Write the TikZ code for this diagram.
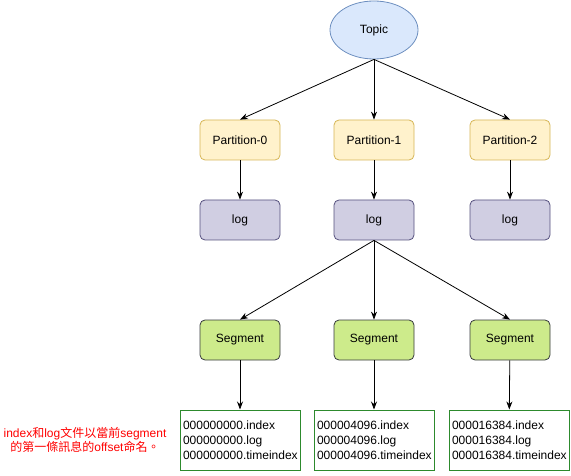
\documentclass[tikz,border=0pt]{standalone}
\usepackage{fontspec}
\setmainfont{Liberation Sans}
\newfontfamily\cjk{Noto Sans CJK TC}
\usetikzlibrary{arrows.meta,shapes.geometric}
\definecolor{topicfill}{HTML}{DAE8FC}
\definecolor{topicline}{HTML}{6C8EBF}
\definecolor{partfill}{HTML}{FFF2CC}
\definecolor{partline}{HTML}{D6B656}
\definecolor{logfill}{HTML}{D0CEE2}
\definecolor{logline}{HTML}{56517E}
\definecolor{segfill}{HTML}{CDEB8B}
\definecolor{segline}{HTML}{36393D}
\definecolor{fileline}{HTML}{2D8A2D}
\definecolor{notered}{HTML}{FF0000}
\newcommand{\zh}[1]{{\cjk #1}}
\begin{document}
\begin{tikzpicture}[x=1pt,y=-1pt,
  every node/.style={font=\fontsize{12}{15}\selectfont},
  box/.style={rounded corners=5pt,minimum width=80pt,minimum height=40pt,inner sep=0pt,line width=0.8pt},
  partbox/.style={box,draw=partline,fill=partfill},
  logbox/.style={box,draw=logline,fill=logfill},
  segbox/.style={box,draw=segline,fill=segfill},
  filebox/.style={draw=fileline,line width=1pt,fill=white,align=left,text width=114pt,inner sep=3pt,minimum height=60pt},
  link/.style={line width=0.8pt,-{Stealth[length=8pt,width=6pt]}}]
\useasboundingbox (0,0) rectangle (571,476);

\node[ellipse,draw=topicline,fill=topicfill,line width=0.8pt,minimum width=88pt,minimum height=58pt,inner sep=0pt] (topic) at (374,30) {Topic};

\node[partbox] (p0) at (240,140) {Partition-0};
\node[partbox] (p1) at (374,140) {Partition-1};
\node[partbox] (p2) at (510,140) {Partition-2};

\node[logbox] (l0) at (240,220) {log};
\node[logbox] (l1) at (374,220) {log};
\node[logbox] (l2) at (510,220) {log};

\node[segbox] (s0) at (240,340) {Segment};
\node[segbox] (s1) at (374,340) {Segment};
\node[segbox] (s2) at (510,340) {Segment};

\node[filebox] (f0) at (240,440) {000000000.index\\000000000.log\\000000000.timeindex};
\node[filebox] (f1) at (374,440) {000004096.index\\000004096.log\\000004096.timeindex};
\node[filebox] (f2) at (509,440) {000016384.index\\000016384.log\\000016384.timeindex};

\node[text=notered,align=center,font=\fontsize{12}{14}\selectfont] (note) at (85,440)
  {index\zh{和}log\zh{文件以當前}segment\\\zh{的第一條訊息的}offset\zh{命名。}};

\draw[link] (topic.south) -- (p0.north);
\draw[link] (topic.south) -- (p1.north);
\draw[link] (topic.south) -- (p2.north);
\draw[link] (p0) -- (l0);
\draw[link] (p1) -- (l1);
\draw[link] (p2) -- (l2);
\draw[link] (l1.south) -- (s0.north);
\draw[link] (l1.south) -- (s1.north);
\draw[link] (l1.south) -- (s2.north);
\draw[link] (s0) -- (f0);
\draw[link] (s1) -- (f1);
\draw[link] (s2) -- (f2);
\end{tikzpicture}
\end{document}
